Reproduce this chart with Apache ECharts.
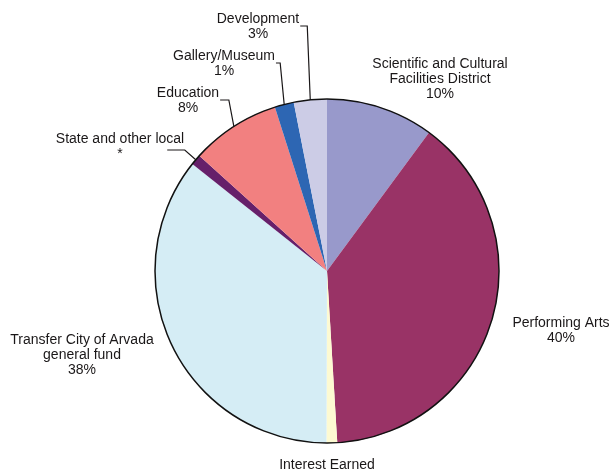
<!DOCTYPE html>
<html>
<head>
<meta charset="utf-8">
<script src="https://cdn.jsdelivr.net/npm/echarts@6/dist/echarts.min.js"></script>
<style>
html,body{margin:0;padding:0;background:#fff;}
#chart{width:615px;height:472px;}
</style>
</head>
<body>
<div id="chart"></div>
<script>
// ---- data ----
var categories = [
  'Scientific and Cultural\nFacilities District',
  'Performing Arts',
  'Interest Earned',
  'Transfer City of Arvada\ngeneral fund',
  'State and other local',
  'Education',
  'Gallery/Museum',
  'Development'
];
var values = [10.1, 38.9, 1.0, 35.6, 1.0, 8.4, 1.8, 3.1];
var pctLabels = ['10%', '40%', '', '38%', '*', '8%', '1%', '3%'];

// ---- styles / layout ----
var colors = ['#9899CB', '#993366', '#FDFAD2', '#D5EDF5', '#66206A', '#F28080', '#2D66B3', '#CCCCE6'];
var labelPlace = [
  {x: 440, y: 79},
  {x: 561, y: 331},
  {x: 327, y: 465},
  {x: 82, y: 355},
  {x: 120, y: 147, line: {dy: 3, elbow: 11, end: -17}},
  {x: 188, y: 101, line: {dy: -1, elbow: 5, end: 1}},
  {x: 224, y: 64, line: {dy: -1, elbow: 4, end: 1}},
  {x: 258, y: 27, line: {dy: -1, elbow: 3, end: 1}}
];

var chart = echarts.init(document.getElementById('chart'));
var data = categories.map(function (c, i) {
  return {
    name: c,
    value: values[i],
    itemStyle: {color: colors[i]},
    labelLine: {show: !!labelPlace[i].line}
  };
});

chart.setOption({
  animation: false,
  series: [
    {
      type: 'pie',
      center: [327, 271],
      radius: 172,
      startAngle: 90,
      clockwise: true,
      avoidLabelOverlap: false,
      data: data,
      itemStyle: {borderWidth: 0},
      label: {
        show: true,
        position: 'outside',
        fontFamily: 'Liberation Sans, Arial, sans-serif',
        fontSize: 14,
        lineHeight: 15,
        color: '#1a1718',
        formatter: function (p) {
          var pct = pctLabels[p.dataIndex];
          return pct ? p.name + '\n' + pct : p.name;
        }
      },
      labelLine: {
        show: true,
        length: 10,
        length2: 10,
        lineStyle: {color: '#1a1718', width: 1.2}
      },
      labelLayout: function (params) {
        var s = labelPlace[params.dataIndex];
        var w = params.labelRect.width, h = params.labelRect.height;
        var res = {x: s.x, y: s.y, align: 'center', verticalAlign: 'middle'};
        if (s.line && params.labelLinePoints) {
          var p0 = params.labelLinePoints[0];
          var left = s.x - w / 2;
          var ay = s.y + s.line.dy;
          res.labelLinePoints = [
            [p0[0], p0[1]],
            [p0[0] - s.line.elbow, ay],
            [left + w + s.line.end, ay]
          ];
        }
        return res;
      },
      emphasis: {disabled: true}
    },
    {
      type: 'pie',
      center: [327, 271],
      radius: 172,
      silent: true,
      z: 5,
      data: [{value: 1, name: 'outline'}],
      itemStyle: {color: 'rgba(0,0,0,0)', borderColor: '#111', borderWidth: 1.5},
      label: {show: false},
      labelLine: {show: false},
      emphasis: {disabled: true}
    }
  ]
});
</script>
</body>
</html>
